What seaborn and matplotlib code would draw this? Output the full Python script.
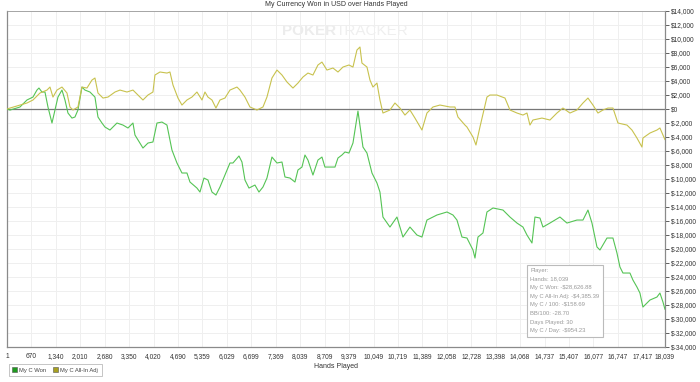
import pandas as pd
import numpy as np
import matplotlib
matplotlib.use("Agg")
import matplotlib.pyplot as plt
from matplotlib.ticker import FuncFormatter
from matplotlib.patches import Patch
import seaborn as sns

# hands played / cumulative USD
won_hands = [1, 82, 356, 548, 713, 822, 877, 959, 1042, 1124, 1234, 1316, 1398, 1508, 1590, 1672, 1782, 1864,
             1946, 2056, 2138, 2275, 2412, 2495, 2604, 2686, 2823, 3015, 3180, 3317, 3454, 3509, 3728, 3865,
             4002, 4112, 4249, 4386, 4523, 4660, 4797, 4934, 5017, 5208, 5291, 5400, 5510, 5620, 5729, 5839,
             5976, 6113, 6195, 6360, 6442, 6524, 6634, 6798, 6908, 7018, 7127, 7264, 7402, 7539, 7621, 7758,
             7895, 7977, 8087, 8169, 8251, 8388, 8525, 8635, 8717, 8855, 8992, 9074, 9183, 9266, 9375, 9485,
             9622, 9759, 9869, 10006, 10143, 10225, 10307, 10499, 10691, 10855, 11047, 11239, 11376, 11513,
             11788, 12062, 12226, 12336, 12473, 12610, 12775, 12830, 12912, 13049, 13158, 13323, 13597, 13789,
             13981, 14145, 14255, 14392, 14474, 14611, 14693, 14885, 15159, 15351, 15625, 15790, 15927, 16037,
             16174, 16256, 16448, 16612, 16722, 16804, 16886, 17078, 17160, 17270, 17352, 17434, 17544, 17626,
             17818, 17900, 17983, 18039]
won_usd = [0, -150, 290, 1290, 1710, 2710, 3000, 2430, 2430, 290, -2000, -140, 1710, 2710, 1290, -570, -1290,
           -1140, -140, 3140, 2710, 2430, 1710, -1140, -2000, -2570, -3000, -2000, -2290, -2710, -2000, -3710,
           -5570, -4860, -4710, -2000, -1860, -2290, -5860, -7710, -9140, -9140, -10430, -11290, -11860, -9860,
           -10140, -11860, -12290, -11140, -9430, -7710, -7710, -6710, -7570, -10140, -11290, -10860, -11860,
           -11140, -9860, -6860, -7710, -7570, -9710, -9860, -10430, -8710, -8290, -6570, -7290, -9430, -7290,
           -6860, -8290, -8290, -8290, -7000, -6570, -6140, -6290, -4860, -290, -5430, -6290, -9140, -10570,
           -11860, -15430, -16860, -15430, -18290, -16860, -18000, -18290, -15860, -15140, -14710, -15140,
           -15860, -18290, -18430, -20140, -21290, -18290, -17710, -14710, -14140, -14430, -15430, -16290,
           -16860, -18000, -19140, -15430, -15570, -16860, -16290, -15430, -16290, -15860, -15860, -14430,
           -16290, -19710, -20140, -18430, -18430, -20570, -22570, -23430, -23430, -24430, -25430, -26290,
           -28290, -27710, -27290, -26860, -26290, -27570, -28627]

adj_hands = [1, 82, 356, 548, 713, 905, 1097, 1179, 1261, 1371, 1508, 1645, 1727, 1809, 1946, 2056, 2193, 2330,
             2412, 2495, 2632, 2769, 2961, 3098, 3290, 3454, 3591, 3728, 3865, 4002, 4057, 4194, 4386, 4468,
             4551, 4688, 4797, 4934, 5071, 5208, 5346, 5428, 5510, 5620, 5729, 5839, 5976, 6113, 6305, 6387,
             6524, 6661, 6853, 7018, 7127, 7264, 7402, 7539, 7676, 7840, 7977, 8114, 8251, 8388, 8525, 8635,
             8772, 8937, 9074, 9211, 9375, 9485, 9594, 9677, 9731, 9869, 9951, 10033, 10143, 10225, 10307,
             10499, 10636, 10773, 10910, 11047, 11184, 11376, 11513, 11678, 11870, 12144, 12281, 12363, 12555,
             12610, 12775, 12857, 12966, 13158, 13240, 13432, 13652, 13789, 13981, 14145, 14255, 14337, 14419,
             14666, 14885, 15077, 15241, 15433, 15625, 15790, 15927, 16064, 16201, 16338, 16475, 16612, 16749,
             16996, 17133, 17270, 17407, 17434, 17626, 17818, 17900, 18039]
adj_usd = [0, 140, 570, 860, 1290, 2290, 2710, 3140, 1710, 2710, 3140, 2290, 290, -140, 290, 3140, 3000, 4140,
           4430, 2290, 1570, 1710, 2430, 2710, 2430, 2710, 2000, 1290, 2000, 2430, 4860, 5290, 5140, 5290,
           3430, 1570, 570, 1290, 1710, 2430, 1290, 2430, 1710, 1290, 140, 1290, 1570, 2710, 3140, 2710, 1710,
           290, -140, 290, 1710, 4430, 5570, 4860, 3860, 3000, 3710, 4570, 5140, 4860, 6290, 6710, 5570, 5860,
           5290, 6000, 6290, 6000, 8430, 8860, 6570, 6000, 4140, 3140, 3710, 1290, -570, -140, 860, 140, -860,
           -140, -1290, -3000, -570, 290, 570, 290, 290, -1140, -2290, -2570, -4000, -5140, -2570, 1710, 2000,
           2000, 1570, -140, -570, -860, -570, -2290, -1570, -1290, -1570, -570, 140, -570, -140, 860, 1570,
           570, -570, -140, 140, 140, -2000, -2290, -3000, -4140, -5430, -4140, -3430, -3000, -2710, -4385]

x_ticks = [1, 670, 1340, 2010, 2680, 3350, 4020, 4690, 5359, 6029, 6699, 7369, 8039, 8709, 9379, 10049,
           10719, 11389, 12058, 12728, 13398, 14068, 14737, 15407, 16077, 16747, 17417, 18039]
y_ticks = list(range(-34000, 14001, 2000))

series = ["My C Won", "My C All-In Adj"]
line_colors = ["#55c455", "#c8c24e"]
legend_colors = ["#1e9a1e", "#a8a020"]

stats = ["Player:", "Hands: 18,039", "My C Won: -$28,626.88", "My C All-In Adj: -$4,385.39",
         "My C / 100: -$158.69", "BB/100: -28.70", "Days Played: 30", "My C / Day: -$954.23"]

df = pd.concat([
    pd.DataFrame({"Hands": won_hands, "USD": won_usd, "Series": series[0]}),
    pd.DataFrame({"Hands": adj_hands, "USD": adj_usd, "Series": series[1]}),
])

sns.set_style("white")
plt.rcParams["font.family"] = ["Liberation Sans", "DejaVu Sans"]

fig = plt.figure(figsize=(7, 3.82), dpi=100)
ax = fig.add_axes([0.01, 0.0916, 0.94, 0.8795])

ax.set_xlim(1, 18039)
ax.set_ylim(-34000, 14000)
ax.set_xticks(x_ticks)
ax.set_yticks(y_ticks)
ax.grid(True, color="#efefef", linewidth=0.7)
ax.axhline(0, color="#777777", linewidth=0.9, zorder=1)

# watermark
ax.text(0.50, 0.94, "POKER", transform=ax.transAxes, fontsize=11, fontweight="bold",
        color="#ececec", ha="right", va="center", zorder=0)
ax.text(0.50, 0.94, "TRACKER", transform=ax.transAxes, fontsize=11,
        color="#efefef", ha="left", va="center", zorder=0)

sns.lineplot(data=df, x="Hands", y="USD", hue="Series", palette=dict(zip(series, line_colors)),
             estimator=None, sort=False, linewidth=0.8, legend=False, ax=ax, zorder=3)

ax.yaxis.tick_right()
ax.yaxis.set_major_formatter(FuncFormatter(lambda v, p: "$" + f"{int(v):,}"
                                           if v >= 0 else "$-" + f"{int(-v):,}"))
ax.xaxis.set_major_formatter(FuncFormatter(lambda v, p: f"{int(v):,}"))
ax.tick_params(axis="both", labelsize=4.8, colors="#444444", length=3, width=0.6,
               labelcolor="#333333", pad=1.5)
for side in ["left", "right", "top", "bottom"]:
    ax.spines[side].set_visible(True)
    ax.spines[side].set_color("#8a8a8a")
    ax.spines[side].set_linewidth(0.9)
ax.spines["top"].set_color("#999999")
ax.spines["top"].set_linewidth(0.6)

ax.set_ylabel("")
ax.set_xlabel("Hands Played", fontsize=5, color="#333333", labelpad=2)
fig.text(0.48, 0.988, "My Currency Won in USD over Hands Played", fontsize=5, color="#333333",
         ha="center", va="center")

ax.text(0.795, 0.235, "\n".join(stats), transform=ax.transAxes, fontsize=4.2, color="#999999",
        va="top", ha="left", linespacing=1.9, zorder=5,
        bbox=dict(boxstyle="square,pad=0.6", facecolor="white", edgecolor="#bbbbbb", linewidth=0.8))

handles = [Patch(facecolor=c, edgecolor="#555555", linewidth=0.4) for c in legend_colors]
leg = fig.legend(handles, series, loc="lower left", bbox_to_anchor=(0.008, 0.008), ncol=2,
                 fontsize=4.2, frameon=True, fancybox=False, edgecolor="#aaaaaa",
                 handlelength=0.8, handleheight=0.8, handletextpad=0.4, columnspacing=1.2,
                 borderpad=0.6)
leg.get_frame().set_linewidth(0.6)
for t in leg.get_texts():
    t.set_color("#444444")

fig.savefig("out.png", dpi=100)
